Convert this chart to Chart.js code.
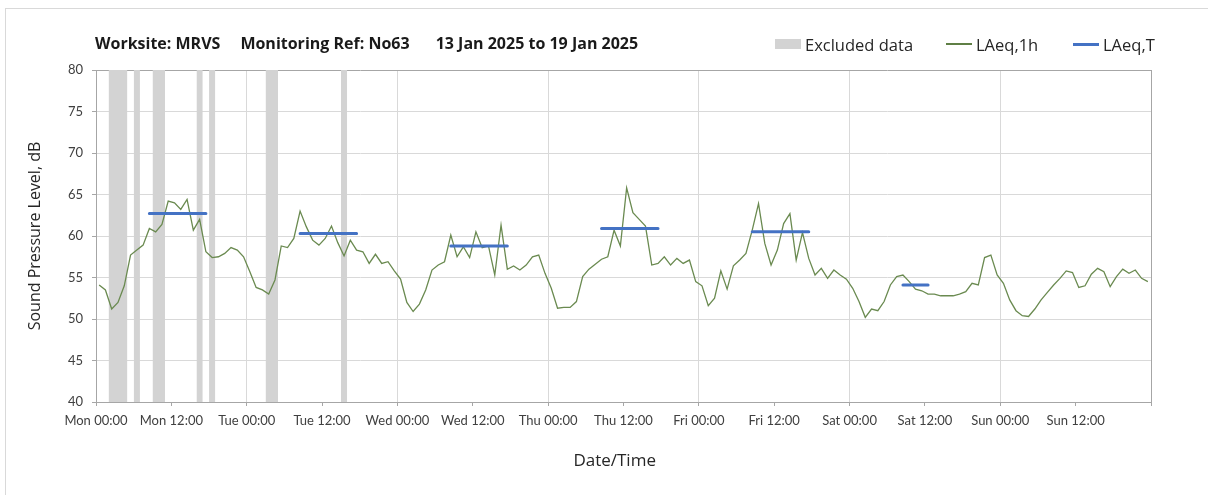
<!DOCTYPE html>
<html>
<head>
<meta charset="utf-8">
<script src="https://cdn.jsdelivr.net/npm/chart.js@4.4.1/dist/chart.umd.min.js"></script>
<style>
    html, body { margin: 0; padding: 0; background: #fff; overflow: hidden; }
    #wrap { position: relative; width: 1208px; height: 495px; overflow: hidden; }
    #frame { position: absolute; left: 5px; top: 8px; width: 1400px; height: 700px; border: 1px solid #d9d9d9; }
    #chart { position: absolute; left: 0; top: 0; }
    #title {
        position: absolute; left: 95px; top: 32px; line-height: 20px;
        font: bold 16px 'Open Sans', sans-serif; color: #1a1a1a; white-space: nowrap;
    }
    #title span:nth-child(1) { margin-right: 20px; }
    #title span:nth-child(2) { margin-right: 26px; }
    .item {
        position: absolute; top: 34px; height: 20px;
        display: flex; align-items: center;
        font: 16.5px 'Open Sans', sans-serif; color: #262626; white-space: nowrap;
    }
    .sw { width: 26px; margin-right: 4px; }
</style>
</head>
<body>
<div id="wrap">
    <div id="frame"></div>
    <canvas id="chart" width="1208" height="495"></canvas>
    <div id="title"><span>Worksite: MRVS</span><span>Monitoring Ref: No63</span><span>13 Jan 2025 to 19 Jan 2025</span></div>
    <div class="item" style="left:775px"><div class="sw" style="height:10px;background:#d3d3d3"></div>Excluded data</div>
    <div class="item" style="left:946px"><div class="sw" style="height:1.5px;background:#5f7f45"></div>LAeq,1h</div>
    <div class="item" style="left:1073px"><div class="sw" style="height:3px;background:#4472c4"></div>LAeq,T</div>
</div>
<script>
// hourly LAeq,1h from Mon 13 Jan 00:00 (one value per hour, 168 hours)
const hourlyLevels = [
    54.1, 53.5, 51.2, 52.0, 54.0, 57.7, 58.3, 58.9, 60.9, 60.5, 61.4, 64.2,
    64.0, 63.2, 64.4, 60.7, 62.0, 58.1, 57.4, 57.5, 57.9, 58.6, 58.3, 57.5,
    55.7, 53.8, 53.5, 53.0, 54.7, 58.8, 58.6, 59.7, 63.0, 61.1, 59.5, 58.9,
    59.7, 61.2, 59.2, 57.6, 59.5, 58.3, 58.1, 56.7, 57.8, 56.7, 56.9, 55.8,
    54.8, 52.0, 50.9, 51.8, 53.5, 55.9, 56.5, 56.9, 60.1, 57.5, 58.7, 57.4,
    60.5, 58.6, 58.8, 55.3, 61.3, 56.0, 56.4, 55.9, 56.5, 57.5, 57.7, 55.5,
    53.7, 51.3, 51.4, 51.4, 52.1, 55.1, 56.0, 56.6, 57.2, 57.5, 60.7, 58.8,
    65.8, 62.8, 62.0, 61.2, 56.5, 56.7, 57.5, 56.5, 57.3, 56.7, 57.1, 54.5,
    54.0, 51.6, 52.5, 55.8, 53.6, 56.4, 57.1, 57.9, 60.7, 63.9, 59.1, 56.5,
    58.3, 61.5, 62.7, 57.1, 60.4, 57.3, 55.3, 56.1, 54.9, 55.9, 55.3, 54.8,
    53.7, 52.1, 50.2, 51.2, 51.0, 52.1, 54.1, 55.1, 55.3, 54.5, 53.6, 53.4,
    53.0, 53.0, 52.8, 52.8, 52.8, 53.0, 53.3, 54.3, 54.1, 57.4, 57.7, 55.3,
    54.3, 52.3, 51.0, 50.4, 50.3, 51.2, 52.3, 53.2, 54.1, 54.9, 55.8, 55.6,
    53.8, 54.0, 55.4, 56.1, 55.7, 53.9, 55.1, 56.0, 55.5, 55.9, 54.9, 54.5
];

// daytime LAeq,T periods (hours from Mon 00:00)
const periodFrom = [8.5, 32.5, 56.5, 80.5, 104.5, 128.5];
const periodTo = [17.5, 41.5, 65.5, 89.5, 113.5, 132.5];
const periodLevels = [62.7, 60.3, 58.8, 60.9, 60.5, 54.1];

// excluded data (hours from Mon 00:00)
const excludedFrom = [2, 6, 9, 16, 18, 27, 39];
const excludedTo = [5, 7, 11, 17, 19, 29, 40];

const tickLabels = [
    'Mon 00:00', 'Mon 12:00', 'Tue 00:00', 'Tue 12:00', 'Wed 00:00', 'Wed 12:00',
    'Thu 00:00', 'Thu 12:00', 'Fri 00:00', 'Fri 12:00', 'Sat 00:00', 'Sat 12:00',
    'Sun 00:00', 'Sun 12:00'
];

const yMin = 40, yMax = 80;

Chart.defaults.font.family = "'Open Sans', sans-serif";
Chart.defaults.color = '#333';

// build point lists
const hourlyPoints = hourlyLevels.map((v, i) => ({ x: i + 0.5, y: v }));

const periodPoints = [];
periodLevels.forEach((v, i) => {
    periodPoints.push({ x: periodFrom[i], y: v }, { x: periodTo[i], y: v }, { x: periodTo[i], y: null });
});

const excludedPoints = [];
excludedFrom.forEach((s, i) => {
    excludedPoints.push({ x: s, y: yMax }, { x: excludedTo[i], y: yMax }, { x: excludedTo[i], y: null });
});

const tickFont = { family: 'Lato', size: 13 };

new Chart(document.getElementById('chart'), {
    type: 'line',
    data: {
        datasets: [
            {
                label: 'LAeq,T',
                data: periodPoints,
                borderColor: '#4472c4',
                borderWidth: 3,
                borderCapStyle: 'round',
                pointRadius: 0,
                spanGaps: false,
                order: 0
            },
            {
                label: 'LAeq,1h',
                data: hourlyPoints,
                borderColor: '#6a8a50',
                borderWidth: 1.3,
                pointRadius: 0,
                tension: 0,
                order: 1
            },
            {
                label: 'Excluded data',
                data: excludedPoints,
                borderWidth: 0,
                backgroundColor: '#d3d3d3',
                fill: 'start',
                pointRadius: 0,
                spanGaps: false,
                order: 2
            }
        ]
    },
    options: {
        responsive: false,
        devicePixelRatio: 1,
        animation: false,
        layout: { padding: { top: 70, right: 57, left: 0, bottom: 0 } },
        plugins: {
            legend: { display: false },
            tooltip: { enabled: false }
        },
        scales: {
            x: {
                type: 'linear',
                min: 0,
                max: 168,
                afterFit: (scale) => { scale.height = 93; },
                border: { color: '#a6a6a6' },
                grid: {
                    // vertical lines only at midnight, right edge closes the box
                    color: (ctx) => ctx.tick.value === 168 ? '#a6a6a6'
                        : (ctx.tick.value % 24 === 0 ? '#d9d9d9' : 'rgba(0,0,0,0)'),
                    tickColor: '#a6a6a6',
                    tickLength: 4
                },
                ticks: {
                    stepSize: 12,
                    autoSkip: false,
                    maxRotation: 0,
                    padding: 7,
                    color: '#404040',
                    font: tickFont,
                    callback: (v) => tickLabels[v / 12] ?? ''
                },
                title: {
                    display: true,
                    text: 'Date/Time    ',
                    color: '#262626',
                    font: { size: 17 },
                    padding: { bottom: 24 }
                }
            },
            y: {
                min: yMin,
                max: yMax,
                afterFit: (scale) => { scale.width = 96; },
                border: { color: '#a6a6a6' },
                grid: {
                    color: (ctx) => ctx.tick.value === yMax ? '#a6a6a6' : '#d9d9d9',
                    tickColor: '#a6a6a6',
                    tickLength: 4
                },
                ticks: {
                    stepSize: 5,
                    padding: 9,
                    color: '#404040',
                    font: tickFont
                },
                title: {
                    display: true,
                    text: 'Sound Pressure Level, dB',
                    color: '#262626',
                    font: { size: 16 },
                    padding: { top: 26 }
                }
            }
        }
    }
});
</script>
</body>
</html>
